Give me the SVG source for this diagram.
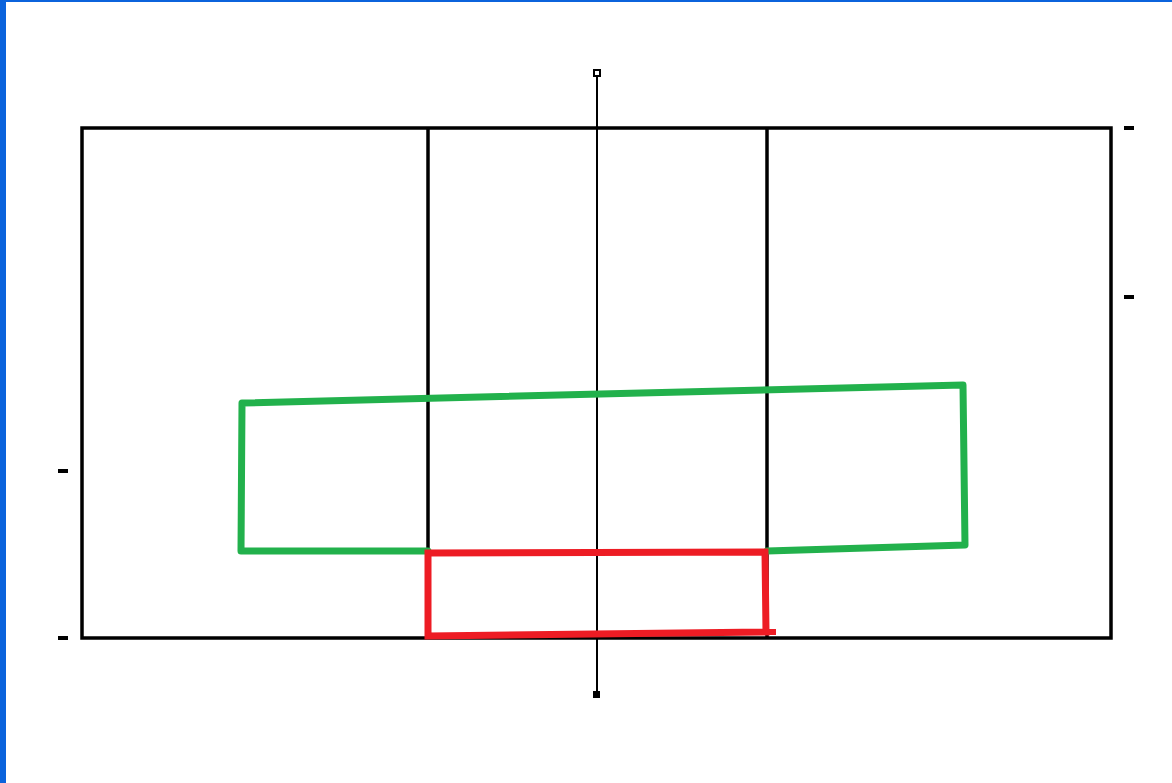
<svg xmlns="http://www.w3.org/2000/svg" width="1172" height="783" viewBox="0 0 1172 783">
<style>
.blk{fill:none;stroke:#000;stroke-width:3.5}
.ax{stroke:#000;stroke-width:2;fill:none}
.tick{stroke:#000;stroke-width:4}
.grn{fill:none;stroke:#22b14c;stroke-width:7;stroke-linejoin:round;stroke-linecap:round}
.red{fill:none;stroke:#ed1c24;stroke-width:7;stroke-linejoin:miter}
</style>
<rect x="0" y="0" width="1172" height="783" fill="#fff"/>
<rect x="0" y="0" width="6" height="783" fill="#0b63dc"/>
<rect x="0" y="0" width="1172" height="2" fill="#0b63dc"/>
<g id="court">
<rect class="blk" x="82" y="128" width="1029" height="510"/>
<line class="blk" x1="428" y1="128" x2="428" y2="638"/>
<line class="blk" x1="767" y1="128" x2="767" y2="638"/>
</g>
<g id="axis">
<line class="ax" x1="597" y1="75" x2="597" y2="692"/>
<rect x="594" y="70" width="6" height="6" fill="#fff" stroke="#000" stroke-width="2"/>
<rect x="593" y="691" width="7" height="7" fill="#000"/>
</g>
<g id="ticks">
<line class="tick" x1="1124" y1="128" x2="1134" y2="128"/>
<line class="tick" x1="1124" y1="297" x2="1134" y2="297"/>
<line class="tick" x1="58" y1="471" x2="68" y2="471"/>
<line class="tick" x1="58" y1="638" x2="68" y2="638"/>
</g>
<g id="green">
<polyline class="grn" points="428,551 241,551 242,403 963,385 965,545 767,551"/>
</g>
<g id="red">
<polygon class="red" points="428,553 765,552 766,632 428,636"/>
<line x1="718" y1="632" x2="776" y2="632" stroke="#ed1c24" stroke-width="6"/>
</g>
</svg>
